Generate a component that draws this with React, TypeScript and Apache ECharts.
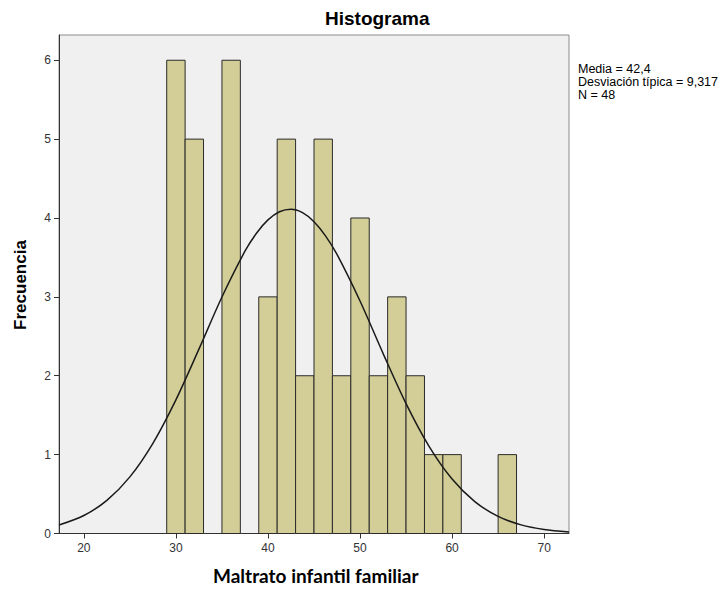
import React, { useEffect, useRef } from "react";
import * as echarts from "echarts";

const binStarts = [29, 31, 35, 39, 41, 43, 45, 47, 49, 51, 53, 55, 57, 59, 65];
const binCounts = [6, 5, 6, 3, 5, 2, 5, 2, 4, 2, 3, 2, 1, 1, 1];
const binWidth = 2;

const curveX = [17.3, 20, 22.5, 25, 27.5, 30, 32.5, 35, 37.5, 38.75, 40, 41.25, 42.5, 43.75, 45, 46.25, 47.5, 50, 52.5, 55, 57.5, 60, 62.5, 65, 67.5, 70, 72.7];
const curveY = [0.107, 0.228, 0.42, 0.718, 1.144, 1.695, 2.337, 2.998, 3.579, 3.807, 3.976, 4.079, 4.11, 4.067, 3.953, 3.774, 3.538, 2.947, 2.284, 1.647, 1.105, 0.69, 0.401, 0.217, 0.109, 0.051, 0.02];

const xTicks = [20, 30, 40, 50, 60, 70];
const yTicks = [0, 1, 2, 3, 4, 5, 6];

const statsLines = ["Media = 42,4", "Desviación típica = 9,317", "N = 48"];

export default function App() {
  const ref = useRef<HTMLDivElement>(null);
  useEffect(() => {
    const chart = echarts.init(ref.current!, null, { renderer: "svg" });
    const barData = binStarts.map((s, i) => [s, s + binWidth, binCounts[i]]);
    chart.setOption({
      animation: false,
      backgroundColor: "#ffffff",
      grid: {
        left: 59,
        right: 159,
        top: 35,
        bottom: 58.5,
        show: true,
        backgroundColor: "#f0f0f0",
        borderColor: "#8c8c8c",
        borderWidth: 1,
      },
      xAxis: {
        type: "value",
        min: 17.3,
        max: 72.7,
        splitLine: { show: false },
        axisLine: { show: true, onZero: false, lineStyle: { color: "#333", width: 1 } },
        axisTick: { show: true, length: 5, customValues: xTicks, lineStyle: { color: "#333" } },
        axisLabel: {
          customValues: xTicks,
          color: "#333",
          fontSize: 12,
          fontFamily: "Liberation Sans, Arial, sans-serif",
          margin: 8,
        },
      },
      yAxis: {
        type: "value",
        min: 0,
        max: 6.32,
        splitLine: { show: false },
        axisLine: { show: true, lineStyle: { color: "#333", width: 1 } },
        axisTick: { show: true, length: 5, customValues: yTicks, lineStyle: { color: "#333" } },
        axisLabel: {
          customValues: yTicks,
          color: "#333",
          fontSize: 12,
          fontFamily: "Liberation Sans, Arial, sans-serif",
          margin: 8,
        },
      },
      series: [
        {
          type: "custom",
          data: barData,
          encode: { x: [0, 1], y: 2 },
          renderItem: (params: any, api: any) => {
            const p0 = api.coord([api.value(0), api.value(2)]);
            const p1 = api.coord([api.value(1), 0]);
            return {
              type: "rect",
              shape: { x: p0[0], y: p0[1], width: p1[0] - p0[0], height: p1[1] - p0[1] },
              style: { fill: "#d3ce97", stroke: "#2b2b2b", lineWidth: 1 },
            };
          },
          z: 2,
        },
        {
          type: "line",
          data: curveX.map((x, i) => [x, curveY[i]]),
          smooth: 0.3,
          symbol: "none",
          lineStyle: { color: "#1a1a1a", width: 1.5 },
          z: 3,
        },
      ],
      graphic: [
        {
          type: "text",
          left: 325,
          top: 9,
          style: {
            text: "Histograma",
            fill: "#000",
            font: "bold 19px 'Liberation Sans', Arial, sans-serif",
          },
        },
        {
          type: "text",
          left: 213,
          top: 566,
          style: {
            text: "Maltrato infantil familiar",
            fill: "#000",
            font: "bold 19px Lato, 'Open Sans', sans-serif",
          },
        },
        {
          type: "text",
          x: 20,
          y: 285,
          rotation: Math.PI / 2,
          style: {
            text: "Frecuencia",
            fill: "#000",
            align: "center",
            verticalAlign: "middle",
            font: "bold 17px 'Liberation Sans', Arial, sans-serif",
          },
        },
        {
          type: "text",
          left: 578,
          top: 62,
          style: {
            text: statsLines.join("\n"),
            fill: "#000",
            lineHeight: 13,
            font: "12.5px 'Liberation Sans', Arial, sans-serif",
          },
        },
      ],
    });
    return () => chart.dispose();
  }, []);
  return (
    <div
      ref={ref}
      style={{ position: "absolute", left: 0, top: 0, width: 728, height: 592 }}
    />
  );
}
